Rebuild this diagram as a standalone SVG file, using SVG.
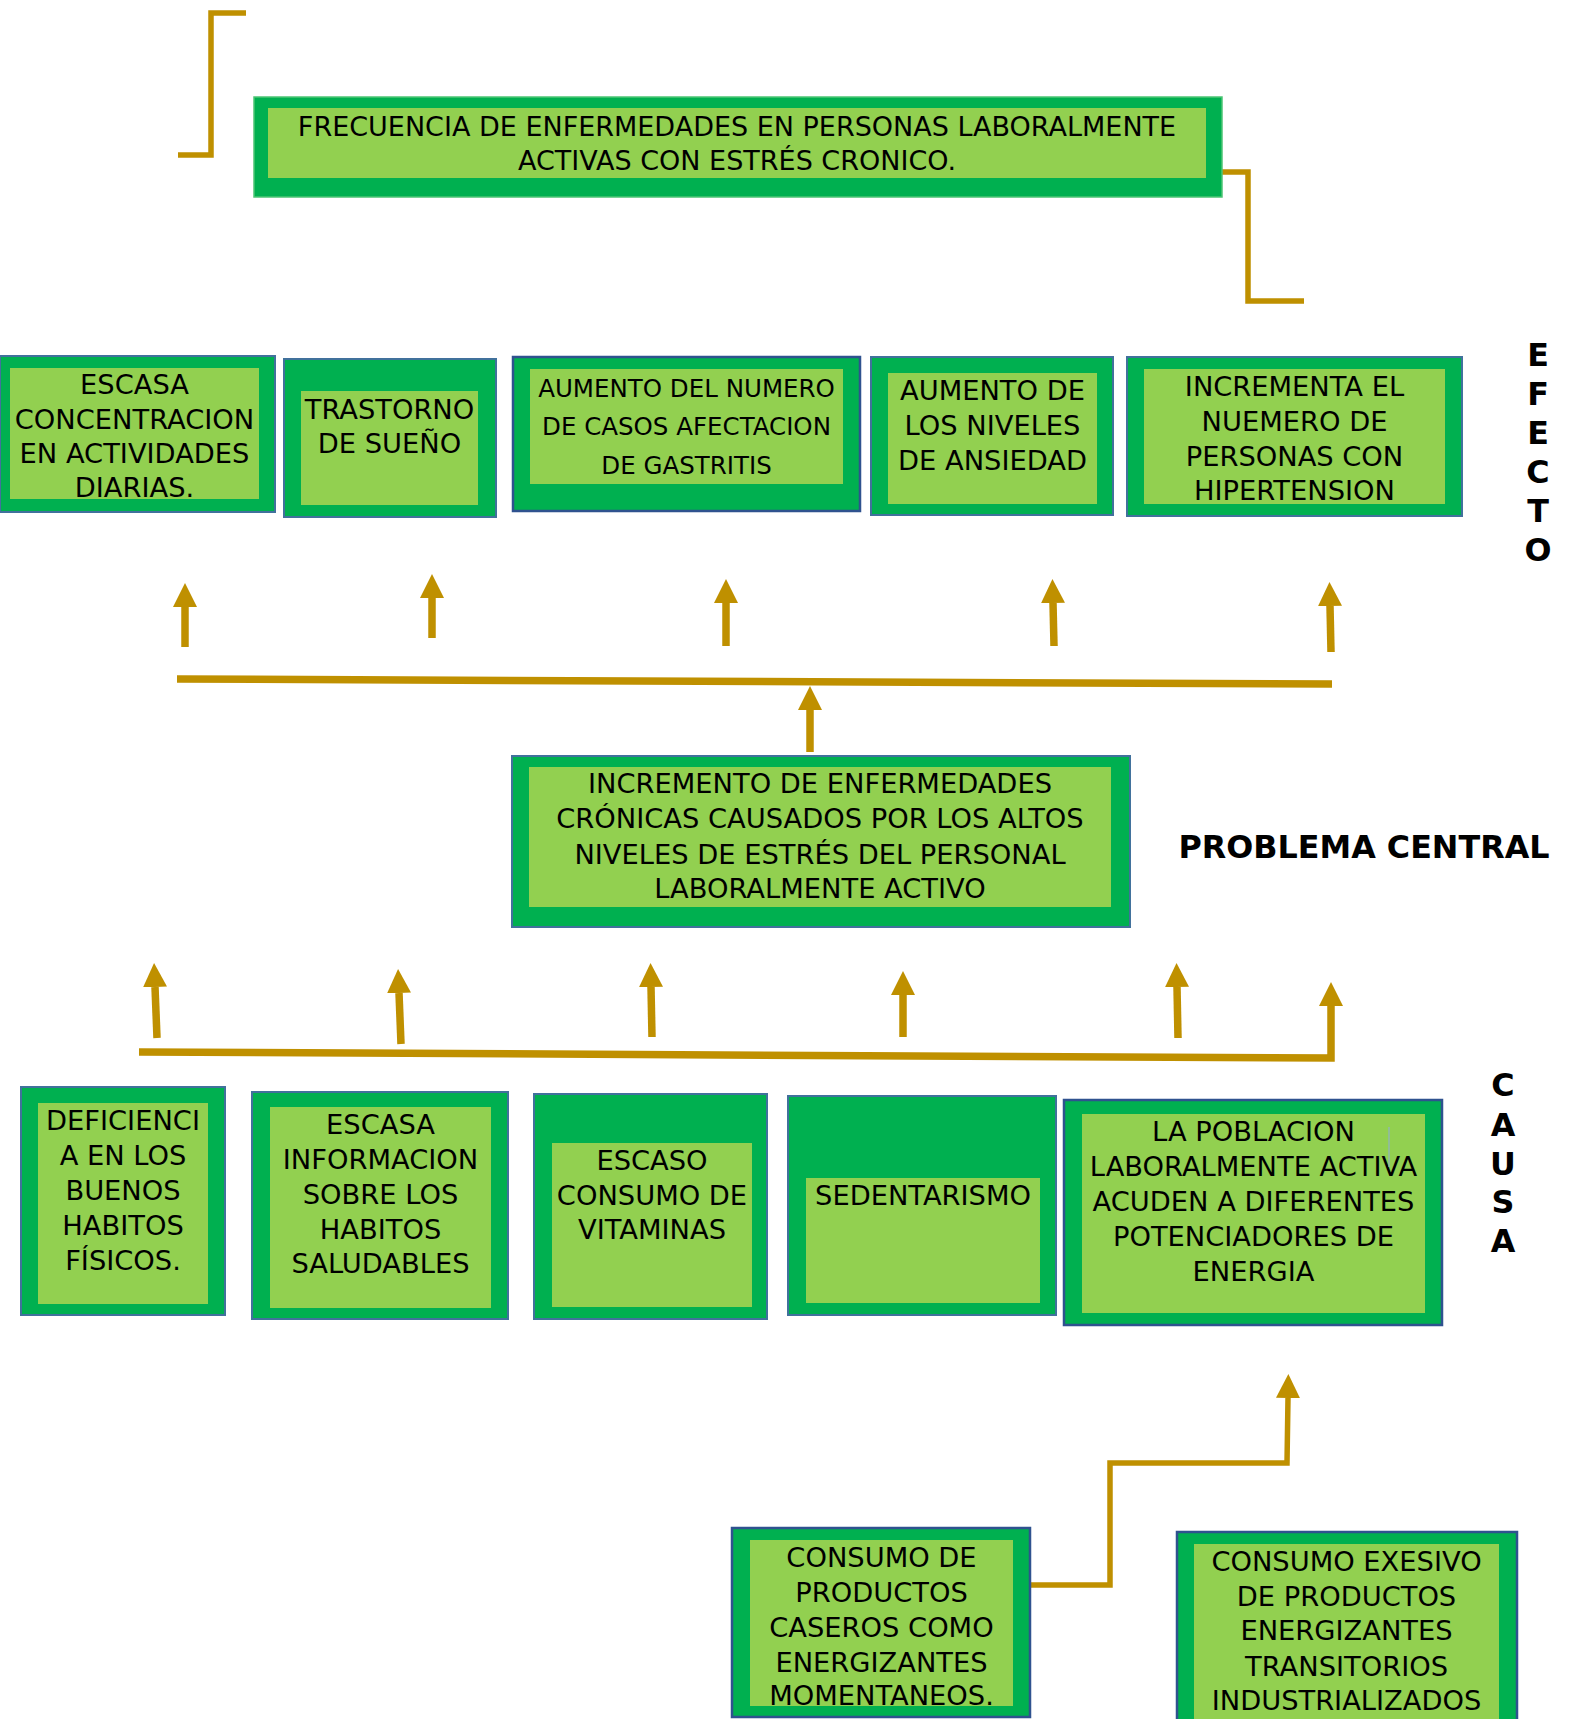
<svg xmlns="http://www.w3.org/2000/svg" width="1571" height="1719" viewBox="0 0 1571 1719">
<defs>
<style>
.o{fill:#00B050;stroke:#41719C;stroke-width:2}
.od{fill:#00B050;stroke:#2F528F;stroke-width:2.5}
.ot{fill:#00B050;stroke:#4CC574;stroke-width:1.5}
.i{fill:#92D050}
.t{font-family:"DejaVu Sans","Verdana",sans-serif;font-size:27.3px;fill:#000;text-anchor:middle}
.tt{font-size:27px}
.ts{font-size:24.5px}
.b{font-family:"DejaVu Sans","Verdana",sans-serif;font-weight:bold;font-size:31.8px;fill:#000;text-anchor:middle}
.c{fill:none;stroke:#BF9000;stroke-width:7.5}
.cn{fill:none;stroke:#BF9000;stroke-width:5.5}
</style>
<marker id="ah" markerUnits="userSpaceOnUse" markerWidth="24" markerHeight="24" viewBox="0 0 24 24" refX="0" refY="12" orient="auto">
<path d="M0,0 L24,12 L0,24 Z" fill="#BF9000"/>
</marker>
</defs>
<rect width="1571" height="1719" fill="#FFFFFF"/>

<g id="connectors">
<path class="cn" d="M246,13 H211 V155 H178"/>
<path class="cn" d="M1220,172 H1248 V301 H1304"/>
<path class="c" d="M185,647 V607" marker-end="url(#ah)"/>
<path class="c" d="M432,638 V598" marker-end="url(#ah)"/>
<path class="c" d="M726,646 V603" marker-end="url(#ah)"/>
<path class="c" d="M1054,646 L1053,603" marker-end="url(#ah)"/>
<path class="c" d="M1331,652 L1330,606" marker-end="url(#ah)"/>
<path class="c" d="M177,679 L1332,684"/>
<path class="c" d="M810,752 V710" marker-end="url(#ah)"/>
<path class="c" d="M157,1038 L155,987" marker-end="url(#ah)"/>
<path class="c" d="M401,1044 L399,993" marker-end="url(#ah)"/>
<path class="c" d="M652,1037 L651,987" marker-end="url(#ah)"/>
<path class="c" d="M903,1037 V995" marker-end="url(#ah)"/>
<path class="c" d="M1178,1038 L1177,987" marker-end="url(#ah)"/>
<path class="c" d="M139,1052 L1331,1058 L1331,1006" marker-end="url(#ah)"/>
<path class="cn" d="M1023,1585 H1110 V1463 H1287 L1288,1398" marker-end="url(#ah)"/>
</g>

<g id="efecto-principal">
<rect class="ot" x="254" y="97" width="968" height="100"/>
<rect class="i" x="268" y="108" width="938" height="70"/>
<text class="t tt" x="737" y="136">FRECUENCIA DE ENFERMEDADES EN PERSONAS LABORALMENTE</text>
<text class="t tt" x="737" y="170">ACTIVAS CON ESTRÉS CRONICO.</text>
</g>

<g id="efecto-1">
<rect class="o" x="0" y="356" width="275" height="156"/>
<rect class="i" x="10" y="368" width="249" height="131"/>
<text class="t" x="134.5" y="394">ESCASA</text>
<text class="t" x="134.5" y="429">CONCENTRACION</text>
<text class="t" x="134.5" y="463">EN ACTIVIDADES</text>
<text class="t" x="134.5" y="497">DIARIAS.</text>
</g>

<g id="efecto-2">
<rect class="o" x="284" y="359" width="212" height="158"/>
<rect class="i" x="301" y="391" width="177" height="114"/>
<text class="t" x="389.5" y="419">TRASTORNO</text>
<text class="t" x="389.5" y="453">DE SUEÑO</text>
</g>

<g id="efecto-3">
<rect class="od" x="513" y="357" width="347" height="154"/>
<rect class="i" x="530" y="369" width="313" height="115"/>
<text class="t ts" x="686.5" y="397">AUMENTO DEL NUMERO</text>
<text class="t ts" x="686.5" y="435">DE CASOS AFECTACION</text>
<text class="t ts" x="686.5" y="474">DE GASTRITIS</text>
</g>

<g id="efecto-4">
<rect class="o" x="871" y="357" width="242" height="158"/>
<rect class="i" x="888" y="373" width="209" height="131"/>
<text class="t" x="992.5" y="400">AUMENTO DE</text>
<text class="t" x="992.5" y="435">LOS NIVELES</text>
<text class="t" x="992.5" y="470">DE ANSIEDAD</text>
</g>

<g id="efecto-5">
<rect class="o" x="1127" y="357" width="335" height="159"/>
<rect class="i" x="1144" y="369" width="301" height="135"/>
<text class="t" x="1294.5" y="396">INCREMENTA EL</text>
<text class="t" x="1294.5" y="431">NUEMERO DE</text>
<text class="t" x="1294.5" y="466">PERSONAS CON</text>
<text class="t" x="1294.5" y="500">HIPERTENSION</text>
</g>

<g id="label-efecto">
<text class="b" x="1538" y="366">E</text>
<text class="b" x="1538" y="405">F</text>
<text class="b" x="1538" y="444">E</text>
<text class="b" x="1538" y="483">C</text>
<text class="b" x="1538" y="522">T</text>
<text class="b" x="1538" y="561">O</text>
</g>

<g id="problema-central">
<rect class="o" x="512" y="756" width="618" height="171"/>
<rect class="i" x="529" y="767" width="582" height="140"/>
<text class="t" x="820" y="793">INCREMENTO DE ENFERMEDADES</text>
<text class="t" x="820" y="828">CRÓNICAS CAUSADOS POR LOS ALTOS</text>
<text class="t" x="820" y="864">NIVELES DE ESTRÉS DEL PERSONAL</text>
<text class="t" x="820" y="898">LABORALMENTE ACTIVO</text>
</g>

<g id="label-problema">
<text class="b" x="1364" y="858">PROBLEMA CENTRAL</text>
</g>

<g id="causa-1">
<rect class="o" x="21" y="1087" width="204" height="228"/>
<rect class="i" x="38" y="1103" width="170" height="201"/>
<text class="t" x="123" y="1130">DEFICIENCI</text>
<text class="t" x="123" y="1165">A EN LOS</text>
<text class="t" x="123" y="1200">BUENOS</text>
<text class="t" x="123" y="1235">HABITOS</text>
<text class="t" x="123" y="1270">FÍSICOS.</text>
</g>

<g id="causa-2">
<rect class="o" x="252" y="1092" width="256" height="227"/>
<rect class="i" x="270" y="1107" width="221" height="201"/>
<text class="t" x="380.5" y="1134">ESCASA</text>
<text class="t" x="380.5" y="1169">INFORMACION</text>
<text class="t" x="380.5" y="1204">SOBRE LOS</text>
<text class="t" x="380.5" y="1239">HABITOS</text>
<text class="t" x="380.5" y="1273">SALUDABLES</text>
</g>

<g id="causa-3">
<rect class="o" x="534" y="1094" width="233" height="225"/>
<rect class="i" x="552" y="1143" width="200" height="164"/>
<text class="t" x="652" y="1170">ESCASO</text>
<text class="t" x="652" y="1205">CONSUMO DE</text>
<text class="t" x="652" y="1239">VITAMINAS</text>
</g>

<g id="causa-4">
<rect class="o" x="788" y="1096" width="268" height="219"/>
<rect class="i" x="806" y="1178" width="234" height="125"/>
<text class="t" x="923" y="1205">SEDENTARISMO</text>
</g>

<g id="causa-5">
<rect class="od" x="1064" y="1100" width="378" height="225"/>
<rect class="i" x="1082" y="1114" width="343" height="199"/>
<text class="t" x="1253.5" y="1141">LA POBLACION</text>
<text class="t" x="1253.5" y="1176">LABORALMENTE ACTIVA</text>
<text class="t" x="1253.5" y="1211">ACUDEN A DIFERENTES</text>
<text class="t" x="1253.5" y="1246">POTENCIADORES DE</text>
<text class="t" x="1253.5" y="1281">ENERGIA</text>
<line x1="1389" y1="1127" x2="1389" y2="1167" stroke="#8FAADC" stroke-width="1"/>
</g>

<g id="label-causa">
<text class="b" x="1503" y="1096">C</text>
<text class="b" x="1503" y="1136">A</text>
<text class="b" x="1503" y="1175">U</text>
<text class="b" x="1503" y="1213">S</text>
<text class="b" x="1503" y="1252">A</text>
</g>

<g id="subcausa-1">
<rect class="od" x="732" y="1528" width="298" height="189"/>
<rect class="i" x="750" y="1540" width="263" height="166"/>
<text class="t" x="881.5" y="1567">CONSUMO DE</text>
<text class="t" x="881.5" y="1602">PRODUCTOS</text>
<text class="t" x="881.5" y="1637">CASEROS COMO</text>
<text class="t" x="881.5" y="1672">ENERGIZANTES</text>
<text class="t" x="881.5" y="1705">MOMENTANEOS.</text>
</g>

<g id="subcausa-2">
<rect class="od" x="1177" y="1532" width="340" height="200"/>
<rect class="i" x="1194" y="1544" width="305" height="180"/>
<text class="t" x="1346.5" y="1571">CONSUMO EXESIVO</text>
<text class="t" x="1346.5" y="1606">DE PRODUCTOS</text>
<text class="t" x="1346.5" y="1640">ENERGIZANTES</text>
<text class="t" x="1346.5" y="1676">TRANSITORIOS</text>
<text class="t" x="1346.5" y="1710">INDUSTRIALIZADOS</text>
</g>
</svg>
